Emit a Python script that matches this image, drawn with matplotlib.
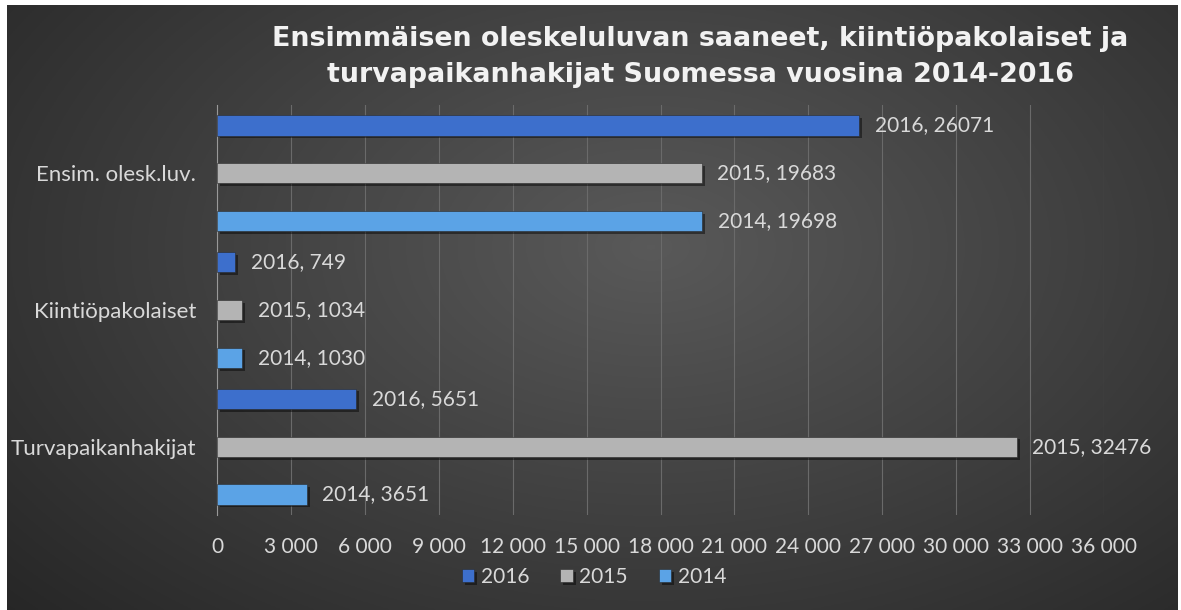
import numpy as np
import matplotlib
matplotlib.use("Agg")
import matplotlib.pyplot as plt
import matplotlib.patheffects as pe
from matplotlib.ticker import FuncFormatter, MultipleLocator

# Data
categories = ["Turvapaikanhakijat", "Kiintiöpakolaiset", "Ensim. olesk.luv."]
years = ["2016", "2015", "2014"]
values_2016 = [5651, 749, 26071]
values_2015 = [32476, 1034, 19683]
values_2014 = [3651, 1030, 19698]
title = "Ensimmäisen oleskeluluvan saaneet, kiintiöpakolaiset ja\nturvapaikanhakijat Suomessa vuosina 2014-2016"

colors = {"2016": "#3d6fcc", "2015": "#b4b4b4", "2014": "#5ba3e6"}
text_color = "#d9d9d9"
label_font = ["Lato", "DejaVu Sans"]

fig = plt.figure(figsize=(11.81, 6.10), dpi=100, facecolor="white")

# dark radial background
bg = fig.add_axes([7 / 1181, 0, 1171 / 1181, 605 / 610])
yy, xx = np.mgrid[0:1:300j, 0:1:600j]
r = np.sqrt(((xx - 0.55) / 0.75) ** 2 + ((yy - 0.4) / 0.9) ** 2)
r = np.clip(r, 0, 1)
shade = 0.35 - 0.2 * r
bg.imshow(np.dstack([shade] * 3), aspect="auto", extent=[0, 1, 0, 1], origin="upper")
bg.set_axis_off()

ax = fig.add_axes([217 / 1181, 95 / 610, 887 / 1181, 410 / 610])
ax.patch.set_alpha(0)

y = np.arange(len(categories))
offset = 0.35
height = 0.148
series = [("2016", values_2016, offset), ("2015", values_2015, 0), ("2014", values_2014, -offset)]
shadow = [pe.SimplePatchShadow(offset=(2, -2), shadow_rgbFace="black", alpha=0.45), pe.Normal()]

for year, vals, off in series:
    bars = ax.barh(y + off, vals, height=height, color=colors[year], label=year,
                   edgecolor="#2a2a2a", linewidth=0.4, zorder=3)
    for b in bars:
        b.set_path_effects(shadow)
    for yi, v in zip(y + off, vals):
        ax.annotate(f"{year}, {v}", xy=(v, yi), xytext=(11, 0), textcoords="offset points",
                    va="center", ha="left", color=text_color, fontsize=15, family=label_font)

ax.set_xlim(0, 36000)
ax.set_ylim(-0.5, 2.5)
ax.xaxis.set_major_locator(MultipleLocator(3000))
ax.xaxis.set_major_formatter(FuncFormatter(lambda v, p: f"{int(v):,}".replace(",", " ")))
ax.grid(axis="x", color="#6a6a6a", linewidth=0.8, zorder=0)
ax.set_yticks(y)
ax.set_yticklabels(categories)
for s in ["top", "right", "bottom"]:
    ax.spines[s].set_visible(False)
ax.spines["left"].set_color("#999999")
ax.tick_params(axis="y", length=0, colors=text_color, labelsize=16, pad=15)
ax.tick_params(axis="x", length=0, colors=text_color, labelsize=15, pad=16)
for lab in ax.get_xticklabels() + ax.get_yticklabels():
    lab.set_family(label_font)

fig.text(0.593, 0.906, title, ha="center", va="center", color="#f2f2f2", fontsize=19.4,
         fontweight="bold", linespacing=1.5)

handles, labels = ax.get_legend_handles_labels()
leg = fig.legend(handles, labels, loc="center", bbox_to_anchor=(0.503, 0.054), ncol=3,
                 frameon=False, handlelength=0.6, handleheight=0.6, handletextpad=0.3,
                 columnspacing=1.5, prop={"family": label_font, "size": 15})
for t in leg.get_texts():
    t.set_color(text_color)

fig.savefig("out.png", dpi=100, facecolor=fig.get_facecolor())
